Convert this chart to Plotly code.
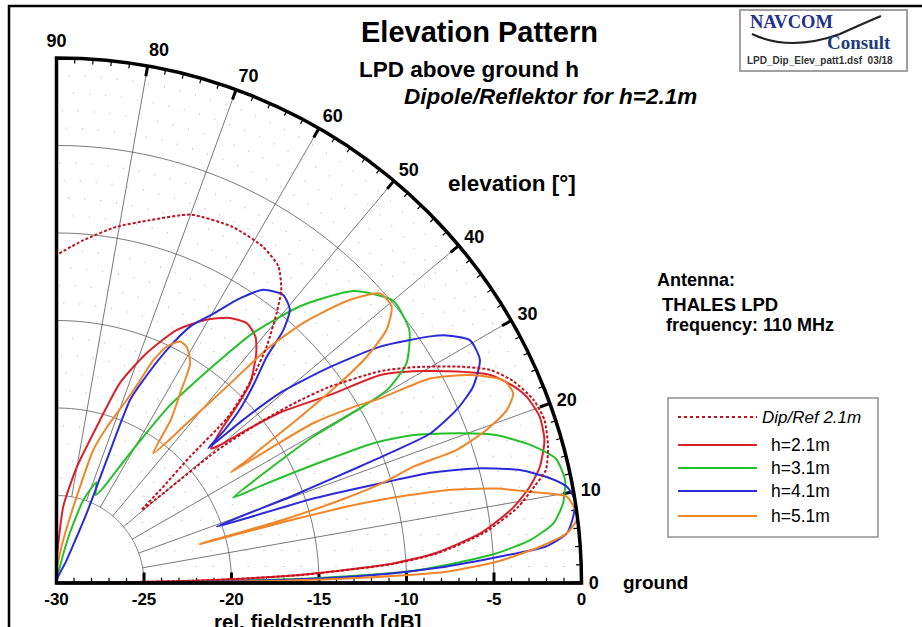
import numpy as np
import plotly.graph_objects as go

W, H = 922, 627

# ---------------- data (elevation angle in deg, rel. fieldstrength in dB) ----------------
theta_dip = [0, 0.5, 1.0, 1.9, 3.3, 4.5, 6.7, 9.3, 11.5, 13.0, 15.5, 18.5, 21.0, 23.8, 26.2, 28.4, 31.2, 33.2,
             35.7, 37.0, 38.2, 39.5, 40.6, 41.9, 43.4, 44.0, 45.0, 46.5, 48.4, 50.8, 52.5, 55.0, 58.5, 63.7,
             70.0, 75.6, 80.4, 85.5, 90.0]
r_dip = [-30, -27.4, -21.6, -15.9, -10.6, -8.1, -5.4, -3.3, -2.1, -1.3, -0.85, -0.6, -0.8, -1.45, -2.4, -4.0,
         -6.2, -7.9, -10.8, -12.8, -15.0, -18.0, -23.6, -22.0, -19.5, -16.5, -15.2, -13.6, -11.9, -10.1, -8.9,
         -7.9, -7.45, -7.3, -7.6, -8.6, -9.35, -10.35, -11.25]

theta_h21 = [0, 0.5, 1.0, 1.9, 3.3, 4.5, 6.7, 9.3, 11.5, 13.5, 16.3, 19.0, 21.6, 23.4, 25.6, 27.8, 30.7, 32.7,
             34.5, 37.3, 38.8, 40.2, 41.0, 42.0, 43.2, 44.4, 45.9, 49.0, 51.1, 53.8, 56.8, 60.4, 64.6, 68.6,
             72.4, 75.6, 80.1, 84.9, 90.0]
r_h21 = [-30, -27.5, -21.8, -16.1, -10.8, -8.3, -5.6, -3.6, -2.4, -1.6, -0.95, -0.8, -1.1, -1.6, -2.5, -4.1,
         -6.3, -8.0, -11.0, -13.9, -16.0, -17.8, -18.3, -17.8, -16.9, -15.6, -14.1, -12.6, -11.9, -11.6, -11.9,
         -12.7, -14.0, -15.9, -18.0, -20.8, -23.3, -25.6, -28.7]

theta_h31 = [0, 0.3, 0.6, 1.0, 1.42, 1.85, 2.64, 3.86, 5.2, 6.85, 8.94, 11.45, 14.0, 16.25, 18.6, 20.35, 22.5,
             23.8, 24.6, 25.4, 25.8, 27.9, 29.0, 29.7, 29.9, 30.3, 32.1, 35.6, 40.0, 44.5, 48.6, 51.8, 53.75,
             55.8, 57.5, 59.5, 62.0, 64.0, 66.0, 68.4, 72.0, 75.0, 78.0, 80.0]
r_h31 = [-30, -26.5, -20.5, -15.8, -12.7, -10.0, -7.7, -4.8, -2.8, -1.4, -0.7, -0.35, -0.6, -1.8, -3.5, -5.4,
         -7.9, -10.2, -13.5, -17.0, -18.8, -16.6, -14.8, -13.1, -10.1, -8.1, -6.4, -5.2, -4.9, -6.2, -8.9,
         -11.8, -14.2, -16.4, -18.0, -20.5, -22.8, -24.0, -24.5, -23.8, -25.0, -27.0, -29.0, -30]

theta_h41 = [0, 0.3, 0.6, 1.0, 1.6, 2.25, 3.1, 3.6, 4.24, 5.56, 7.31, 9.1, 10.7, 12.2, 13.7, 15.15, 16.4, 17.0,
             18.2, 19.4, 20.3, 21.0, 21.3, 21.8, 23.4, 25.2, 27.8, 30.4, 32.4, 33.4, 36.15, 38.3, 40.3, 41.2,
             41.6, 42.3, 43.5, 45.2, 47.1, 48.1, 49.5, 51.8, 54.8, 57.2, 59.8, 62.5, 64.7, 66.85, 68.1, 67.8,
             66.6, 66.0, 66.0]
r_h41 = [-30, -26.0, -20.0, -15.0, -11.0, -8.3, -5.6, -4.0, -2.0, -0.7, -0.23, 0.0, -0.33, -1.34, -2.74, -4.9,
         -7.7, -10.2, -14.5, -20.3, -15.5, -11.5, -9.5, -7.0, -5.1, -3.7, -2.65, -2.6, -3.6, -4.4, -7.1, -10.1,
         -13.1, -16.0, -18.4, -17.0, -15.5, -14.0, -12.35, -10.6, -9.47, -9.05, -9.5, -10.65, -12.2, -13.5,
         -15.3, -17.4, -18.7, -22.4, -25.7, -28.6, -30]

theta_h51 = [0, 0.25, 0.5, 1.0, 1.66, 2.77, 4.29, 5.56, 6.9, 7.6, 9.6, 10.9, 12.1, 13.4, 14.0, 14.6, 15.0, 15.2,
             15.6, 16.3, 17.2, 18.05, 18.4, 19.6, 21.0, 22.55, 24.4, 26.7, 28.7, 29.7, 30.5, 31.9, 32.2, 32.4,
             32.8, 33.4, 34.2, 35.2, 36.1, 37.5, 39.5, 41.8, 44.1, 46.5, 48.0, 49.0, 50.8, 53.3, 55.0, 56.9,
             58.7, 61.1, 62.9, 65.0, 66.5, 67.6, 69.0, 72.0, 74.5, 76.8, 81.0, 89.0]
r_h51 = [-30, -24.5, -18.5, -12.5, -7.7, -4.8, -2.3, -0.7, -0.06, 0.0, -0.43, -2.45, -4.27, -7.1, -9.3, -12.0,
         -16.0, -21.5, -16.5, -13.0, -10.2, -8.55, -5.9, -3.9, -2.44, -1.74, -1.95, -3.55, -5.66, -8.7, -10.0,
         -12.7, -15.5, -18.2, -17.0, -15.85, -13.4, -10.2, -8.06, -6.23, -5.18, -5.18, -6.8, -9.5, -12.0,
         -15.0, -18.3, -20.75, -18.6, -17.06, -15.3, -14.6, -14.5, -15.1, -16.1, -17.5, -18.8, -20.6, -22.1,
         -24.9, -27.5, -29.1]

radial_ticks = [-30, -25, -20, -15, -10, -5, 0]
angular_ticks = [0, 10, 20, 30, 40, 50, 60, 70, 80, 90]

series = [
    ("h=2.1m", theta_h21, r_h21, "#d8232a", "solid"),
    ("h=3.1m", theta_h31, r_h31, "#25c02a", "solid"),
    ("h=4.1m", theta_h41, r_h41, "#2b2bd8", "solid"),
    ("h=5.1m", theta_h51, r_h51, "#f0862a", "solid"),
    ("Dip/Ref 2.1m", theta_dip, r_dip, "#c0101e", "3px,2px"),
]

R0, R1 = radial_ticks[0], radial_ticks[-1]
GRID_IN = radial_ticks[1]
FONT = "Liberation Sans"


def px(x):
    return x / W


def py(y):
    return 1 - y / H


fig = go.Figure()


def seg_trace(rs, ts, color, width, dash="solid"):
    fig.add_trace(go.Scatterpolar(r=rs, theta=ts, mode="lines", line=dict(color=color, width=width, dash=dash),
                                  showlegend=False, hoverinfo="skip", connectgaps=False))


# dotted minor grid arcs (every 1 dB)
arc_t = list(np.linspace(0, 90, 181))
rs, ts = [], []
for rv in range(GRID_IN + 1, R1):
    if rv % 5 == 0:
        continue
    rs += [rv] * len(arc_t) + [None]
    ts += arc_t + [None]
seg_trace(rs, ts, "#c4c4c4", 1.4, "1px,15px")

# major grid arcs
rs, ts = [], []
for rv in radial_ticks[1:-1]:
    rs += [rv] * len(arc_t) + [None]
    ts += arc_t + [None]
seg_trace(rs, ts, "#555555", 0.8)

# spokes
rs, ts = [], []
for a in angular_ticks[1:]:
    rs += [GRID_IN, R1, None]
    ts += [a, a, None]
seg_trace(rs, ts, "#555555", 0.8)

# ticks on outer arc (major every 10, minor every 2)
rs, ts = [], []
for a in angular_ticks:
    rs += [R1 - 0.6, R1, None]
    ts += [a, a, None]
seg_trace(rs, ts, "black", 3)
rs, ts = [], []
for a in range(2, 90, 2):
    if a % 10:
        rs += [R1 - 0.3, R1, None]
        ts += [a, a, None]
seg_trace(rs, ts, "black", 1.2)


# ticks on the bottom radial axis (vertical, pointing up)
def vtick(rv, length):
    d = rv - R0
    rr = R0 + float(np.hypot(d, length))
    tt = float(np.degrees(np.arctan2(length, d)))
    return [rv, rr, None], [0, tt, None]


rs, ts = [], []
for rv in radial_ticks:
    a, b = vtick(rv, 0.6)
    rs += a
    ts += b
seg_trace(rs, ts, "black", 3)
rs, ts = [], []
for rv in range(R0 + 1, R1):
    if rv % 5:
        a, b = vtick(rv, 0.3)
        rs += a
        ts += b
seg_trace(rs, ts, "black", 1.2)

# pattern curves
for name, th, rr, col, dash in series:
    fig.add_trace(go.Scatterpolar(r=rr, theta=th, mode="lines", name=name,
                                  line=dict(color=col, width=2, dash=dash, shape="spline", smoothing=0.6),
                                  showlegend=False))

bold = dict(family=FONT, size=18, color="black", weight="bold")
bold_r = dict(family=FONT, size=17, color="black", weight="bold")

fig.update_layout(
    width=W, height=H, margin=dict(l=0, r=0, t=0, b=0),
    paper_bgcolor="white", plot_bgcolor="white",
    polar=dict(
        domain=dict(x=[px(56.5), px(581.5)], y=[py(583), py(58)]),
        sector=[0, 90], bgcolor="white",
        radialaxis=dict(range=[R0, R1], tickvals=radial_ticks, ticktext=[str(v) for v in radial_ticks],
                        showgrid=False, showline=True, linecolor="black", linewidth=3,
                        ticks="", tickfont=bold_r, angle=0, side="clockwise"),
        angularaxis=dict(rotation=0, direction="counterclockwise", tickvals=angular_ticks,
                         ticktext=[str(v) for v in angular_ticks], showgrid=False, showline=True,
                         linecolor="black", linewidth=3.5, ticks="outside", ticklen=2,
                         tickcolor="rgba(0,0,0,0)", tickfont=bold),
    ),
)

shapes = []
annotations = []


def text(t, x, y, size, xanchor="left", color="black", family=FONT, weight="bold", style="normal"):
    annotations.append(dict(text=t, x=px(x), y=py(y), xref="paper", yref="paper", showarrow=False,
                            xanchor=xanchor, yanchor="middle",
                            font=dict(family=family, size=size, color=color, weight=weight, style=style)))


# frame
shapes.append(dict(type="rect", xref="paper", yref="paper", x0=px(9), x1=px(940), y0=py(650), y1=py(6),
                   line=dict(color="black", width=2.5)))

# titles and labels
text("Elevation Pattern", 480, 32, 29, xanchor="center")
text("LPD above ground h", 357, 69, 22.5)
text("Dipole/Reflektor for h=2.1m", 402, 97, 22.5, style="italic")
text("elevation [°]", 446, 183, 22.5)
text("Antenna:", 655, 280, 18)
text("THALES LPD", 660, 304, 18.5)
text("frequency: 110 MHz", 664, 325, 18)
text("ground", 621, 582, 19)
text("rel. fieldstrength [dB]", 317, 621, 20.5, xanchor="center")

# legend (manual, box + line samples + labels)
shapes.append(dict(type="rect", xref="paper", yref="paper", x0=px(668), x1=px(878), y0=py(537), y1=py(398),
                   line=dict(color="#909090", width=1.5), fillcolor="white"))
leg_rows = [("Dip/Ref 2.1m", 417, "#c0101e", "dot"), ("h=2.1m", 445, "#d8232a", "solid"),
            ("h=3.1m", 468, "#25c02a", "solid"), ("h=4.1m", 491, "#2b2bd8", "solid"),
            ("h=5.1m", 516, "#f0862a", "solid")]
for i, (lab, yy, col, dsh) in enumerate(leg_rows):
    shapes.append(dict(type="line", xref="paper", yref="paper", x0=px(678), x1=px(757), y0=py(yy), y1=py(yy),
                       line=dict(color=col, width=2, dash=dsh)))
    if i == 0:
        text(lab, 760, yy, 17, weight="normal", style="italic")
    else:
        text(lab, 769, yy, 17.5, weight="normal")

# logo box
shapes.append(dict(type="rect", xref="paper", yref="paper", x0=px(740), x1=px(907), y0=py(71), y1=py(10),
                   line=dict(color="#a0a0a0", width=2), fillcolor="white"))
shapes.append(dict(type="path", xref="paper", yref="paper",
                   path=f"M {px(752)},{py(34)} Q {px(790)},{py(52)} {px(840)},{py(34)} Q {px(862)},{py(24)} {px(881)},{py(16)}",
                   line=dict(color="#222222", width=2.2)))
text("NAVCOM", 748, 22, 18.5, color="#23308f", family="Liberation Serif")
text("Consult", 825, 43, 19, color="#1d3d7c", family="Liberation Serif")
text("LPD_Dip_Elev_patt1.dsf  03/18", 745, 60, 10, color="#333333")

fig.update_layout(shapes=shapes, annotations=annotations)

fig.write_html("out.html", post_script="document.body.style.margin='0';",
               config={"displayModeBar": False})
